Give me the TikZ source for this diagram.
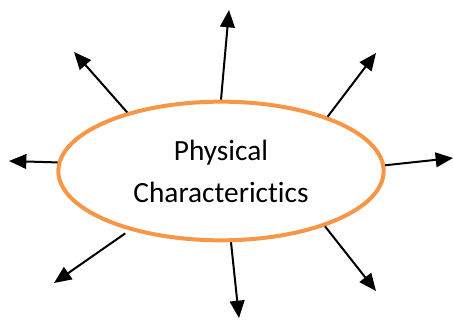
\documentclass[tikz,border=0pt]{standalone}
\usepackage{fontspec}
\setmainfont[Ligatures=NoCommon]{Carlito}
\usetikzlibrary{shapes.geometric,arrows.meta}
\definecolor{ovalorange}{HTML}{F79646}
\begin{document}
\begin{tikzpicture}[x=0.75pt, y=-0.75pt,
    spoke/.style={line width=1.5pt, -{Triangle[length=13pt, width=11pt]}}]
          \useasboundingbox (0,0) rectangle (453,320);
          \node[ellipse, draw=ovalorange, line width=3pt, minimum width=244pt, minimum height=104pt, align=center, font=\fontsize{22}{31.5}\selectfont] (oval) at (221,171) {Physical\\Characterictics};
          \coordinate (tN) at (229,10);
          \coordinate (tNE) at (376,53);
          \coordinate (tE) at (453,158);
          \coordinate (tSE) at (376,291);
          \coordinate (tS) at (239,318);
          \coordinate (tSW) at (54,283);
          \coordinate (tW) at (9,161);
          \coordinate (tNW) at (74,52);
          \draw[spoke] (oval.90) -- (tN);
          \draw[spoke] (oval.27) -- (tNE);
          \draw[spoke] (oval.2) -- (tE);
          \draw[spoke] (oval.332) -- (tSE);
          \draw[spoke] (oval.278) -- (tS);
          \draw[spoke, shorten <=4pt] (oval.213) -- (tSW);
          \draw[spoke] (oval.177) -- (tW);
          \draw[spoke] (oval.148) -- (tNW);
        \end{tikzpicture}
\end{document}
